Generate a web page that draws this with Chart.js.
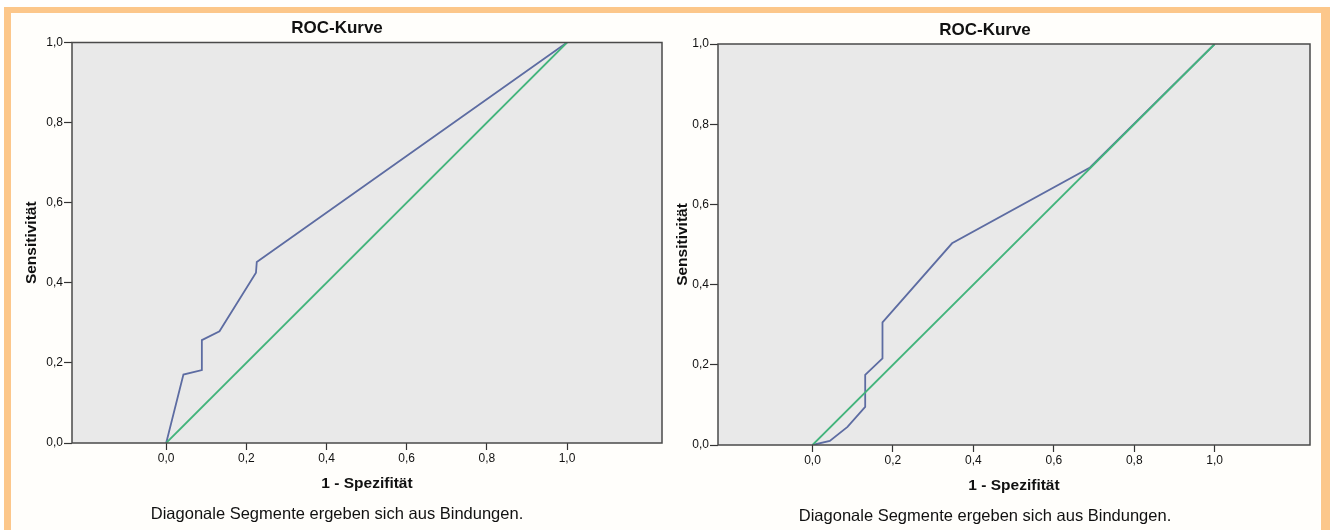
<!DOCTYPE html>
<html><head><meta charset="utf-8">
<script src="https://cdn.jsdelivr.net/npm/chart.js@4/dist/chart.umd.min.js"></script>
<style>
html,body{margin:0;padding:0;background:#fff;width:1330px;height:530px;overflow:hidden;}
#frame{position:absolute;left:4px;top:7px;width:1326px;height:600px;box-sizing:border-box;border-style:solid;border-color:#fcc78b;border-width:6px 9px 0 7px;background:#fffefb;}
.box{position:absolute;top:0;height:530px;}
</style></head><body>
<div id="frame"></div>
<div class="box" style="left:0;width:674px"><canvas id="c1"></canvas></div>
<div class="box" style="left:650px;width:670px"><canvas id="c2"></canvas></div>
<script>
// ---- data ----
const chartTitle = 'ROC-Kurve';
const xAxisTitle = '1 - Spezifität';
const yAxisTitle = 'Sensitivität';
const footnote = 'Diagonale Segmente ergeben sich aus Bindungen.';
const tickValues = [0, 0.2, 0.4, 0.6, 0.8, 1.0];
const tickLabels = ['0,0', '0,2', '0,4', '0,6', '0,8', '1,0'];
const leftFpr = [0, 0.043, 0.089, 0.089, 0.133, 0.224, 0.226, 1];
const leftTpr = [0, 0.171, 0.182, 0.257, 0.279, 0.425, 0.452, 1];
const rightFpr = [0, 0.043, 0.087, 0.131, 0.131, 0.174, 0.174, 0.347, 0.69, 1];
const rightTpr = [0, 0.010, 0.045, 0.095, 0.175, 0.216, 0.306, 0.503, 0.692, 1];
const diagX = [0, 1];
const diagY = [0, 1];

const FONT = "'Liberation Sans', Arial, sans-serif";
const plotBg = {
  id: 'plotBg',
  beforeDraw(chart) {
    const {ctx, chartArea: a} = chart;
    ctx.save(); ctx.fillStyle = '#e9e9e9';
    ctx.fillRect(a.left, a.top, a.right - a.left, a.bottom - a.top);
    ctx.restore();
  },
  afterDraw(chart) {
    const {ctx, chartArea: a} = chart;
    ctx.save(); ctx.strokeStyle = '#4a4a4a'; ctx.lineWidth = 1.5;
    ctx.strokeRect(a.left, a.top, a.right - a.left, a.bottom - a.top);
    ctx.restore();
  }
};

function pts(xs, ys) { return xs.map((x, i) => ({x: x, y: ys[i]})); }

function makeChart(id, fpr, tpr, g) {
  new Chart(document.getElementById(id), {
    type: 'scatter',
    data: {
      datasets: [
        {data: pts(fpr, tpr), showLine: true, borderColor: '#5d6ca2', borderWidth: 1.8, pointRadius: 0, tension: 0, order: 2},
        {data: pts(diagX, diagY), showLine: true, borderColor: '#43b47c', borderWidth: 1.8, pointRadius: 0, tension: 0, order: 1}
      ]
    },
    options: {
      animation: false, responsive: true, maintainAspectRatio: false,
      layout: {padding: 0},
      plugins: {
        legend: {display: false}, tooltip: {enabled: false},
        title: {display: true, text: chartTitle, color: '#111', font: {family: FONT, size: 17, weight: 'bold'}, padding: {top: g.tPadTop, bottom: g.tPadBottom}},
        subtitle: {display: true, position: 'bottom', text: footnote, color: '#111', font: {family: FONT, size: 16.5}, padding: {top: 0, bottom: g.sPadBottom}}
      },
      scales: {
        x: {
          type: 'linear', min: -0.235, max: 1.237,
          afterBuildTicks: s => { s.ticks = tickValues.map(v => ({value: v})); },
          afterFit: s => { s.height = g.xHeight; },
          ticks: {callback: (v, i) => tickLabels[i], color: '#111', font: {family: FONT, size: 12}, padding: 1, maxRotation: 0, autoSkip: false},
          grid: {drawOnChartArea: false, drawTicks: true, tickLength: 7, color: '#333', tickWidth: 1.2},
          border: {display: false},
          title: {display: true, text: xAxisTitle, color: '#111', font: {family: FONT, size: 15.5, weight: 'bold'}, padding: {top: 0, bottom: g.xtPadBottom}}
        },
        y: {
          type: 'linear', min: 0, max: 1,
          afterBuildTicks: s => { s.ticks = tickValues.map(v => ({value: v})); },
          afterFit: s => { s.width = g.yWidth; },
          ticks: {callback: (v, i) => tickLabels[i], color: '#111', font: {family: FONT, size: 12}, padding: 1},
          grid: {drawOnChartArea: false, drawTicks: true, tickLength: 8, color: '#333', tickWidth: 1.2},
          border: {display: false},
          title: {display: true, text: yAxisTitle, color: '#111', font: {family: FONT, size: 15.5, weight: 'bold'}, padding: {top: g.ytPad, bottom: 0}}
        },
        yRight: {
          type: 'linear', position: 'right', min: 0, max: 1,
          afterFit: s => { s.width = g.padRight; },
          ticks: {display: false}, grid: {display: false}, border: {display: false}
        }
      }
    },
    plugins: [plotBg]
  });
}

makeChart('c1', leftFpr, leftTpr, {padRight: 12, tPadTop: 18.3, tPadBottom: 3.8, sPadBottom: 6, xHeight: 61.2, xtPadBottom: 10.9, yWidth: 72, ytPad: 22.5});
makeChart('c2', rightFpr, rightTpr, {padRight: 10, tPadTop: 20.3, tPadBottom: 3.3, sPadBottom: 3.6, xHeight: 61.6, xtPadBottom: 11.3, yWidth: 68, ytPad: 23});
</script>
</body></html>
